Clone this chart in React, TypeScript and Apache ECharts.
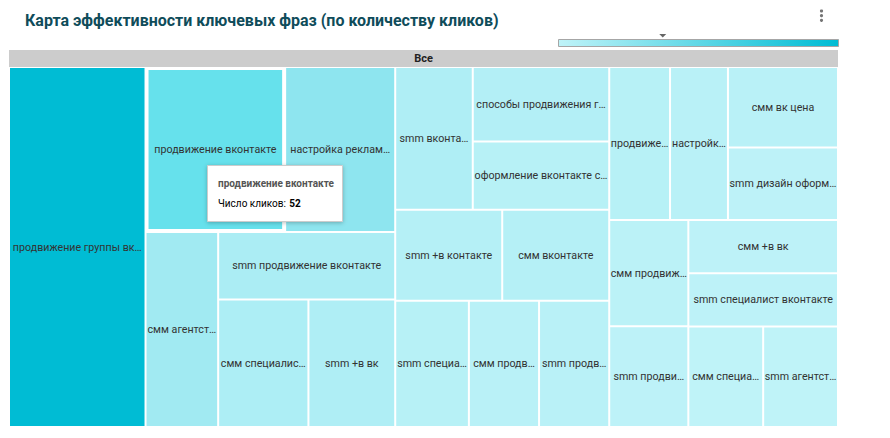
import React, { useEffect, useRef } from 'react';
import * as echarts from 'echarts';

const TITLE = 'Карта эффективности ключевых фраз (по количеству кликов)';
const ROOT_NAME = 'Все';
const METRIC_LABEL = 'Число кликов';

// Key phrases (order of appearance) and their clicks
const phrases: string[] = [
  'продвижение группы вконтакте',
  'продвижение вконтакте',
  'настройка рекламы вконтакте',
  'смм агентство вконтакте',
  'smm продвижение вконтакте',
  'смм специалист вконтакте',
  'smm +в вк',
  'smm вконтакте это',
  'способы продвижения группы вконтакте',
  'оформление вконтакте сообщества',
  'smm +в контакте',
  'смм вконтакте',
  'smm специалист вк',
  'смм продвижение вк',
  'smm продвижение вк группы',
  'продвижение вк группы',
  'настройка таргета вк',
  'смм вк цена',
  'smm дизайн оформление вк',
  'смм продвижение группы',
  'smm продвижение группы',
  'смм +в вк',
  'smm специалист вконтакте',
  'смм специалист вк',
  'smm агентство вконтакте',
];
const clicks: number[] = [
  111, 52, 41, 32, 27, 26, 25, 25, 23, 21, 22, 22, 21, 20, 20, 21, 20, 20, 18, 19, 18, 18, 18, 17, 17,
];

// Grouping of the phrases (indices) as the reference treemap partitions them
const layoutTree: any[] = [
  [0],
  [
    [[1, 2], [3, [4, [5, 6]]]],
    [
      [[[7, [8, 9]], [10, 11]], [12, [13, 14]]],
      [[15, [16, [17, 18]]], [[19, 20], [21, [22, [23, 24]]]]],
    ],
  ],
];

const HOVERED = 1;
const MIN_COLOR = '#bff3f8';
const MAX_COLOR = '#00bcd4';
const LABEL_SIZE = 10.7;
const LABEL_FONT = LABEL_SIZE + 'px Roboto';

let measureCtx: CanvasRenderingContext2D | null = null;
function fitText(text: string, maxW: number): string {
  if (!measureCtx) measureCtx = document.createElement('canvas').getContext('2d');
  if (!measureCtx) return text;
  measureCtx.font = LABEL_FONT;
  if (measureCtx.measureText(text).width <= maxW) return text;
  let s = text;
  while (s.length > 1 && measureCtx.measureText(s.replace(/\s+$/, '') + '…').width > maxW) s = s.slice(0, -1);
  return s.replace(/\s+$/, '') + '…';
}

function buildNode(spec: any, path: string): any {
  if (typeof spec === 'number') {
    const hovered = spec === HOVERED;
    return {
      name: phrases[spec],
      value: clicks[spec],
      itemStyle: hovered
        ? { borderWidth: 3, borderColor: '#ffffff', color: '#66e1ec' }
        : { borderWidth: 1, borderColor: '#ffffff' },
    };
  }
  return {
    name: 'g' + path,
    itemStyle: { borderWidth: 0, gapWidth: 0 },
    children: spec.map((s: any, i: number) => buildNode(s, path + '-' + i)),
  };
}

export default function App() {
  const ref = useRef<HTMLDivElement>(null);
  useEffect(() => {
    if (!ref.current) return;
    const chart = echarts.init(ref.current, undefined, { renderer: 'svg' });
    const minV = Math.min(...clicks);
    const maxV = Math.max(...clicks);
    const barX = 558.5;
    const barW = 280;
    const mx = barX + ((clicks[HOVERED] - minV) / (maxV - minV)) * barW;

    const labelFormatter = (p: any) => {
      try {
        const data = (chart as any).getModel().getSeriesByIndex(0).getData();
        const node = data.tree.getNodeByDataIndex(p.dataIndex);
        const lay = node && node.getLayout();
        if (!lay) return p.name;
        const bw = node.getModel().get(['itemStyle', 'borderWidth']) || 0;
        return fitText(p.name, lay.width - 2 * bw - 1);
      } catch (e) {
        return p.name;
      }
    };

    chart.setOption({
      animation: false,
      textStyle: { fontFamily: 'Roboto' },
      title: {
        text: TITLE,
        left: 20,
        top: 7,
        textStyle: { fontFamily: 'Roboto', fontSize: 16, fontWeight: 'bold', color: '#0f4c5a' },
      },
      series: [
        {
          type: 'treemap',
          left: 9,
          top: 50,
          width: 829,
          height: 377,
          roam: false,
          nodeClick: false,
          sort: false,
          squareRatio: 1,
          breadcrumb: { show: false },
          color: [MIN_COLOR, MAX_COLOR],
          colorMappingBy: 'value',
          visualMin: minV,
          visualMax: maxV,
          itemStyle: { borderWidth: 0, gapWidth: 0, borderColor: '#ffffff' },
          label: {
            show: true,
            position: 'inside',
            color: '#333333',
            fontSize: LABEL_SIZE,
            fontFamily: 'Roboto',
            padding: 0,
            overflow: 'none',
            formatter: labelFormatter,
          },
          upperLabel: { show: false },
          data: [
            {
              name: ROOT_NAME,
              itemStyle: { borderWidth: 0, gapWidth: 0, borderColor: '#cccccc' },
              upperLabel: {
                show: true,
                height: 17,
                position: 'inside',
                color: '#222222',
                fontSize: 11,
                fontWeight: 'bold',
                fontFamily: 'Roboto',
                padding: 0,
                formatter: '{b}',
              },
              children: layoutTree.map((s, i) => buildNode(s, String(i))),
            },
          ],
        },
      ],
      graphic: [
        ...[11, 15.7, 20.3].map((cy) => ({
          type: 'circle',
          z: 100,
          shape: { cx: 821.5, cy, r: 1.6 },
          style: { fill: '#757575' },
        })),
        {
          type: 'rect',
          z: 100,
          shape: { x: barX, y: 39.5, width: barW, height: 7 },
          style: {
            fill: new echarts.graphic.LinearGradient(0, 0, 1, 0, [
              { offset: 0, color: MIN_COLOR },
              { offset: 1, color: MAX_COLOR },
            ]),
            stroke: '#a6a6a6',
            lineWidth: 1,
          },
        },
        {
          type: 'polygon',
          z: 100,
          shape: { points: [[mx - 3.5, 34], [mx + 3.5, 34], [mx, 37.5]] },
          style: { fill: '#666666' },
        },
        {
          type: 'group',
          x: 207,
          y: 165,
          z: 100,
          children: [
            {
              type: 'rect',
              z: 100,
              shape: { x: 0.5, y: 0.5, width: 135, height: 56 },
              style: {
                fill: '#ffffff',
                stroke: '#cccccc',
                lineWidth: 1,
                shadowBlur: 4,
                shadowOffsetY: 1,
                shadowColor: 'rgba(0,0,0,0.25)',
              },
            },
            {
              type: 'text',
              z: 101,
              x: 11,
              y: 18.5,
              style: {
                text: phrases[HOVERED],
                fontFamily: 'Roboto',
                fontSize: 10,
                fontWeight: 'bold',
                fill: '#555555',
                verticalAlign: 'middle',
              },
            },
            {
              type: 'text',
              z: 101,
              x: 11,
              y: 38.5,
              style: {
                text: '{a|' + METRIC_LABEL + ':} {b|' + clicks[HOVERED] + '}',
                verticalAlign: 'middle',
                rich: {
                  a: { fontFamily: 'Roboto', fontSize: 10, color: '#757575' },
                  b: { fontFamily: 'Roboto', fontSize: 10, fontWeight: 'bold', color: '#444444' },
                },
              },
            },
          ],
        },
      ],
    });
    return () => chart.dispose();
  }, []);
  return (
    <div
      ref={ref}
      style={{ position: 'absolute', left: 0, top: 0, width: 890, height: 438 }}
    />
  );
}
